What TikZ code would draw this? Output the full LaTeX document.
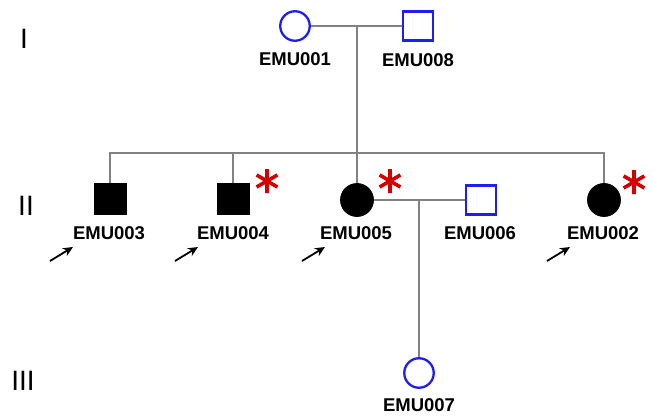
\documentclass[tikz,border=0pt]{standalone}
\usepackage{fontspec}
\setmainfont{Liberation Sans}
\usetikzlibrary{arrows.meta}
\definecolor{pblue}{RGB}{30,30,240}
\definecolor{pgray}{RGB}{130,130,130}
\definecolor{pred}{RGB}{210,0,0}
\tikzset{
  asterisk/.pic={\draw[draw=pred, line width=3.6pt] (0,-12)--(0,12) (-10.4,-6)--(10.4,6) (-10.4,6)--(10.4,-6);}
}
\begin{document}
\begin{tikzpicture}[x=1pt,y=-1pt,
  male/.style={draw=pblue, line width=2.3pt, minimum width=30pt, minimum height=29pt, inner sep=0pt, fill=white},
  female/.style={circle, draw=pblue, line width=2.3pt, minimum size=29.5pt, inner sep=0pt, fill=white},
  malea/.style={fill=black, draw=black, line width=0.8pt, minimum width=32pt, minimum height=31pt, inner sep=0pt},
  femalea/.style={circle, fill=black, draw=black, line width=0.8pt, minimum size=33pt, inner sep=0pt},
  lab/.style={font=\bfseries\fontsize{18.5}{20}\selectfont, inner sep=0pt},
  gen/.style={font=\fontsize{28}{30}\selectfont, inner sep=0pt},
  link/.style={draw=pgray, line width=1.6pt},
  proband/.style={-{Stealth[length=10pt,width=9pt]}, line width=1.8pt, black}
]
\fill[white] (0,0) rectangle (653,417);
\useasboundingbox (0,0) rectangle (653,417);

% generation labels
\node[gen] (g1) at (24,39) {I};
\node[gen] (g2) at (26,206) {II};
\node[gen] (g3) at (23,381) {III};

% coordinates of the lines
\coordinate (u1) at (357,26);
\coordinate (s1) at (357,153);
\coordinate (u2) at (419,200);

% generation I
\node[female] (f1) at (295,26) {};
\node[male] (m8) at (418,26) {};
% generation II
\node[malea] (c3) at (110,199) {};
\node[malea] (c4) at (233,199) {};
\node[femalea] (c5) at (357,200) {};
\node[male] (m6) at (481,200) {};
\node[femalea] (c2) at (604,200) {};
% generation III
\node[female] (c7) at (419,373) {};

% connectors
\draw[link] (f1.east) -- (m8.west);
\draw[link] (u1) -- (c5.north);
\draw[link] (c3.north) -- (c3.north |- s1) -- (c2.north |- s1) -- (c2.north);
\draw[link] (c4.north) -- (c4.north |- s1);
\draw[link] (c5.east) -- (m6.west);
\draw[link] (u2) -- (c7.north);

% labels
\node[lab] (l1) at (295,59) {EMU001};
\node[lab] (l8) at (418,60) {EMU008};
\node[lab] (l3) at (109,233) {EMU003};
\node[lab] (l4) at (233,233) {EMU004};
\node[lab] (l5) at (356,233) {EMU005};
\node[lab] (l6) at (480,233) {EMU006};
\node[lab] (l2) at (603,233) {EMU002};
\node[lab] (l7) at (419,405) {EMU007};

% asterisks
\pic (s4) at (267,181) {asterisk};
\pic (s5) at (390,181) {asterisk};
\pic (s2) at (634,182) {asterisk};

% proband arrows
\coordinate (a3) at (50,261);
\coordinate (a4) at (175,261);
\coordinate (a5) at (302,261);
\coordinate (a2) at (547,261);
\draw[proband] (a3) -- ++(23,-14);
\draw[proband] (a4) -- ++(23,-14);
\draw[proband] (a5) -- ++(23,-14);
\draw[proband] (a2) -- ++(23,-14);
\end{tikzpicture}
\end{document}
